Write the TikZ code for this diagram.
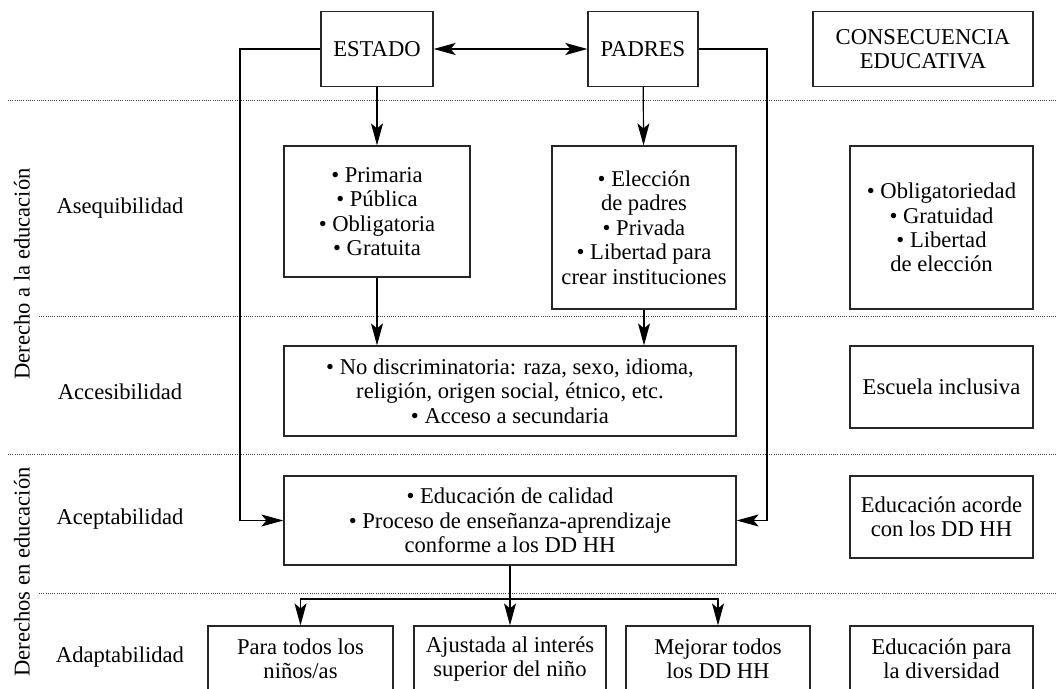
\documentclass[tikz,border=0pt]{standalone}
\usepackage{fontspec}
\setmainfont{Liberation Serif}
\usepackage{tikz}
\usetikzlibrary{arrows.meta}
\tikzset{%
  >={Stealth[length=11pt,width=6pt,inset=2.5pt]},
  % Specifications for style of nodes:
        base/.style = {rectangle, draw=black!85, line width=0.6pt,
                       text centered, align=center, inner sep=2pt},
     cabecera/.style = {base, minimum height=37.5pt},
      bloque/.style = {base, minimum width=226pt},
     consecu/.style = {base, minimum width=91.5pt},
       final/.style = {base, minimum height=33pt},
       nivel/.style = {align=center},
      lateral/.style = {rotate=90, align=center},
      franja/.style = {line width=0.5pt, black!75, dash pattern=on 0.5pt off 0.6pt},
      flecha/.style = {->, line width=0.6pt},
}

\begin{document}
\begin{tikzpicture}[x=0.5pt, y=-0.5pt,
        every node/.style={font=\fontsize{11.3}{12.2}\selectfont}]
    \useasboundingbox (0,0) rectangle (1057,689);

    % franjas
    \draw[franja] (8,101) -- (1057,101);
    \draw[franja] (39,317) -- (1057,317);
    \draw[franja] (8,455) -- (1057,455);
    \draw[franja] (39,594) -- (1057,594);

    % cabecera
    \node (estado)  [cabecera, minimum width=56pt]  at (377,49) {ESTADO};
    \node (padres)  [cabecera, minimum width=55pt]  at (643,49) {PADRES};
    \node (consec)  [cabecera, minimum width=110pt] at (923,49) {CONSECUENCIA\\EDUCATIVA};

    % niveles
    \node (nasequi) [nivel] at (120,208) {Asequibilidad};
    \node (naccesi) [nivel] at (120,392) {Accesibilidad};
    \node (nacepta) [nivel] at (120,519) {Aceptabilidad};
    \node (nadapta) [nivel] at (120,657) {Adaptabilidad};
    \node (derechoa)  [lateral] at (22,274) {Derecho a la educación};
    \node (derechosen) [lateral] at (22,572) {Derechos en educación};

    % asequibilidad
    \node (primaria) [base, minimum width=93pt, minimum height=65.5pt] at (377,211.5)
        {\textbullet{} Primaria\\ \textbullet{} Pública\\ \textbullet{} Obligatoria\\ \textbullet{} Gratuita};
    \node (eleccion) [base, minimum width=92pt, minimum height=81.5pt] at (644,227.5)
        {\textbullet{} Elección\\ de padres\\ \textbullet{} Privada\\ \textbullet{} Libertad para\\ crear instituciones};
    \node (obligat)  [consecu, minimum height=81.5pt] at (941.5,227.5)
        {\textbullet{} Obligatoriedad\\ \textbullet{} Gratuidad\\ \textbullet{} Libertad\\ de elección};

    % accesibilidad
    \node (nodisc)  [bloque, minimum height=45pt] at (510,391)
        {\textbullet{} No discriminatoria: raza, sexo, idioma,\\ religión, origen social, étnico, etc.\\ \textbullet{} Acceso a secundaria};
    \node (escuela) [consecu, minimum height=41pt] at (941.5,387) {Escuela inclusiva};

    % aceptabilidad
    \node (calidad) [bloque, minimum height=44.5pt] at (510,520.5)
        {\textbullet{} Educación de calidad\\ \textbullet{} Proceso de enseñanza-aprendizaje\\ conforme a los DD HH};
    \node (acorde)  [consecu, minimum height=41pt] at (941.5,517) {Educación acorde\\ con los DD HH};

    % adaptabilidad
    \node (paratodos) [final, minimum width=92.5pt] at (300.5,659) {Para todos los\\ niños/as};
    \node (ajustada)  [final, minimum width=96pt]   at (510,659)   {Ajustada al interés\\ superior del niño};
    \node (mejorar)   [final, minimum width=92pt]   at (718,659)   {Mejorar todos\\ los DD HH};
    \node (diversi)   [final, minimum width=91.5pt] at (941.5,659) {Educación para\\ la diversidad};

    % conexiones
    \draw[<->, line width=1.1pt] (estado) -- (padres);
    \draw[flecha] (estado) -- (primaria);
    \draw[flecha] (padres) -- (eleccion);
    \draw[flecha] (primaria.south) -- (primaria.south |- nodisc.north);
    \draw[flecha] (eleccion.south) -- (eleccion.south |- nodisc.north);

    \coordinate (vueltaI) at (240,49);
    \coordinate (vueltaD) at (767,49);
    \draw[flecha] (estado.west) -- (vueltaI) |- (calidad.west);
    \draw[flecha] (padres.east) -- (vueltaD) |- (calidad.east);

    \coordinate (reparto) at (510,599);
    \draw[flecha] (calidad) -- (ajustada);
    \draw[flecha] (reparto) -| (paratodos.north);
    \draw[flecha] (reparto) -| (mejorar.north);

\end{tikzpicture}
\end{document}
